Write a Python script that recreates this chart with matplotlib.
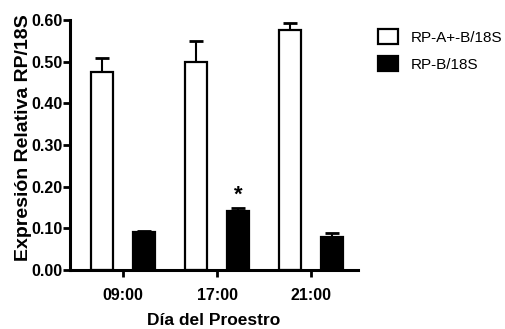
import matplotlib
matplotlib.use("Agg")
import matplotlib.pyplot as plt
import numpy as np

plt.rcParams["font.family"] = ["Liberation Sans", "DejaVu Sans"]

groups = ["09:00", "17:00", "21:00"]
rp_ab = [0.476, 0.500, 0.576]
rp_ab_err = [0.034, 0.050, 0.018]
rp_b = [0.091, 0.142, 0.079]
rp_b_err = [0.003, 0.006, 0.010]
labels = ["RP-A+-B/18S", "RP-B/18S"]

fig = plt.figure(figsize=(5.05, 3.29), dpi=100)
ax = fig.add_axes([0.1386, 0.179, 0.5704, 0.76])

x = np.arange(len(groups))
w = 0.235
off = 0.225
ax.bar(x - off, rp_ab, w, color="white", edgecolor="black", linewidth=1.6, label=labels[0], zorder=2)
ax.errorbar(x - off, rp_ab, yerr=[np.zeros(3), rp_ab_err], fmt="none", ecolor="black",
            elinewidth=1.5, capsize=4.8, capthick=2.0, zorder=1)
ax.bar(x + off, rp_b, w, color="black", edgecolor="black", linewidth=1.6, label=labels[1], zorder=2)
ax.errorbar(x + off, rp_b, yerr=[np.zeros(3), rp_b_err], fmt="none", ecolor="black",
            elinewidth=1.5, capsize=4.8, capthick=2.0, zorder=1)

ax.text(x[1] + off, 0.18, "*", ha="center", va="center", fontsize=16, fontweight="bold")

ax.set_xlim(-0.565, 2.5)
ax.set_ylim(0, 0.6)
yt = np.arange(0, 0.61, 0.1)
ax.set_yticks(yt)
ax.set_yticklabels([f"{v:.2f}" for v in yt])
ax.set_xticks(x)
ax.set_xticklabels(groups)
for t in ax.get_xticklabels() + ax.get_yticklabels():
    t.set_fontweight("bold")
    t.set_fontsize(11.5)
ax.tick_params(axis="both", direction="out", width=2, length=5)
ax.tick_params(axis="x", pad=8)
ax.tick_params(axis="y", pad=0.5)
ax.spines["top"].set_visible(False)
ax.spines["right"].set_visible(False)
for s in ("left", "bottom"):
    ax.spines[s].set_linewidth(2.2)

ax.set_xlabel("Día del Proestro", fontsize=12.5, fontweight="bold", labelpad=7)
ax.set_ylabel("Expresión Relativa RP/18S", fontsize=14, fontweight="bold")
ax.yaxis.set_label_coords(-0.131, 0.53)

leg = ax.legend(loc="upper left", bbox_to_anchor=(1.02, 1.018), frameon=False, fontsize=11,
                handlelength=1.35, handleheight=1.1, handletextpad=0.8, labelspacing=0.75)

fig.savefig("out.png", dpi=100)
